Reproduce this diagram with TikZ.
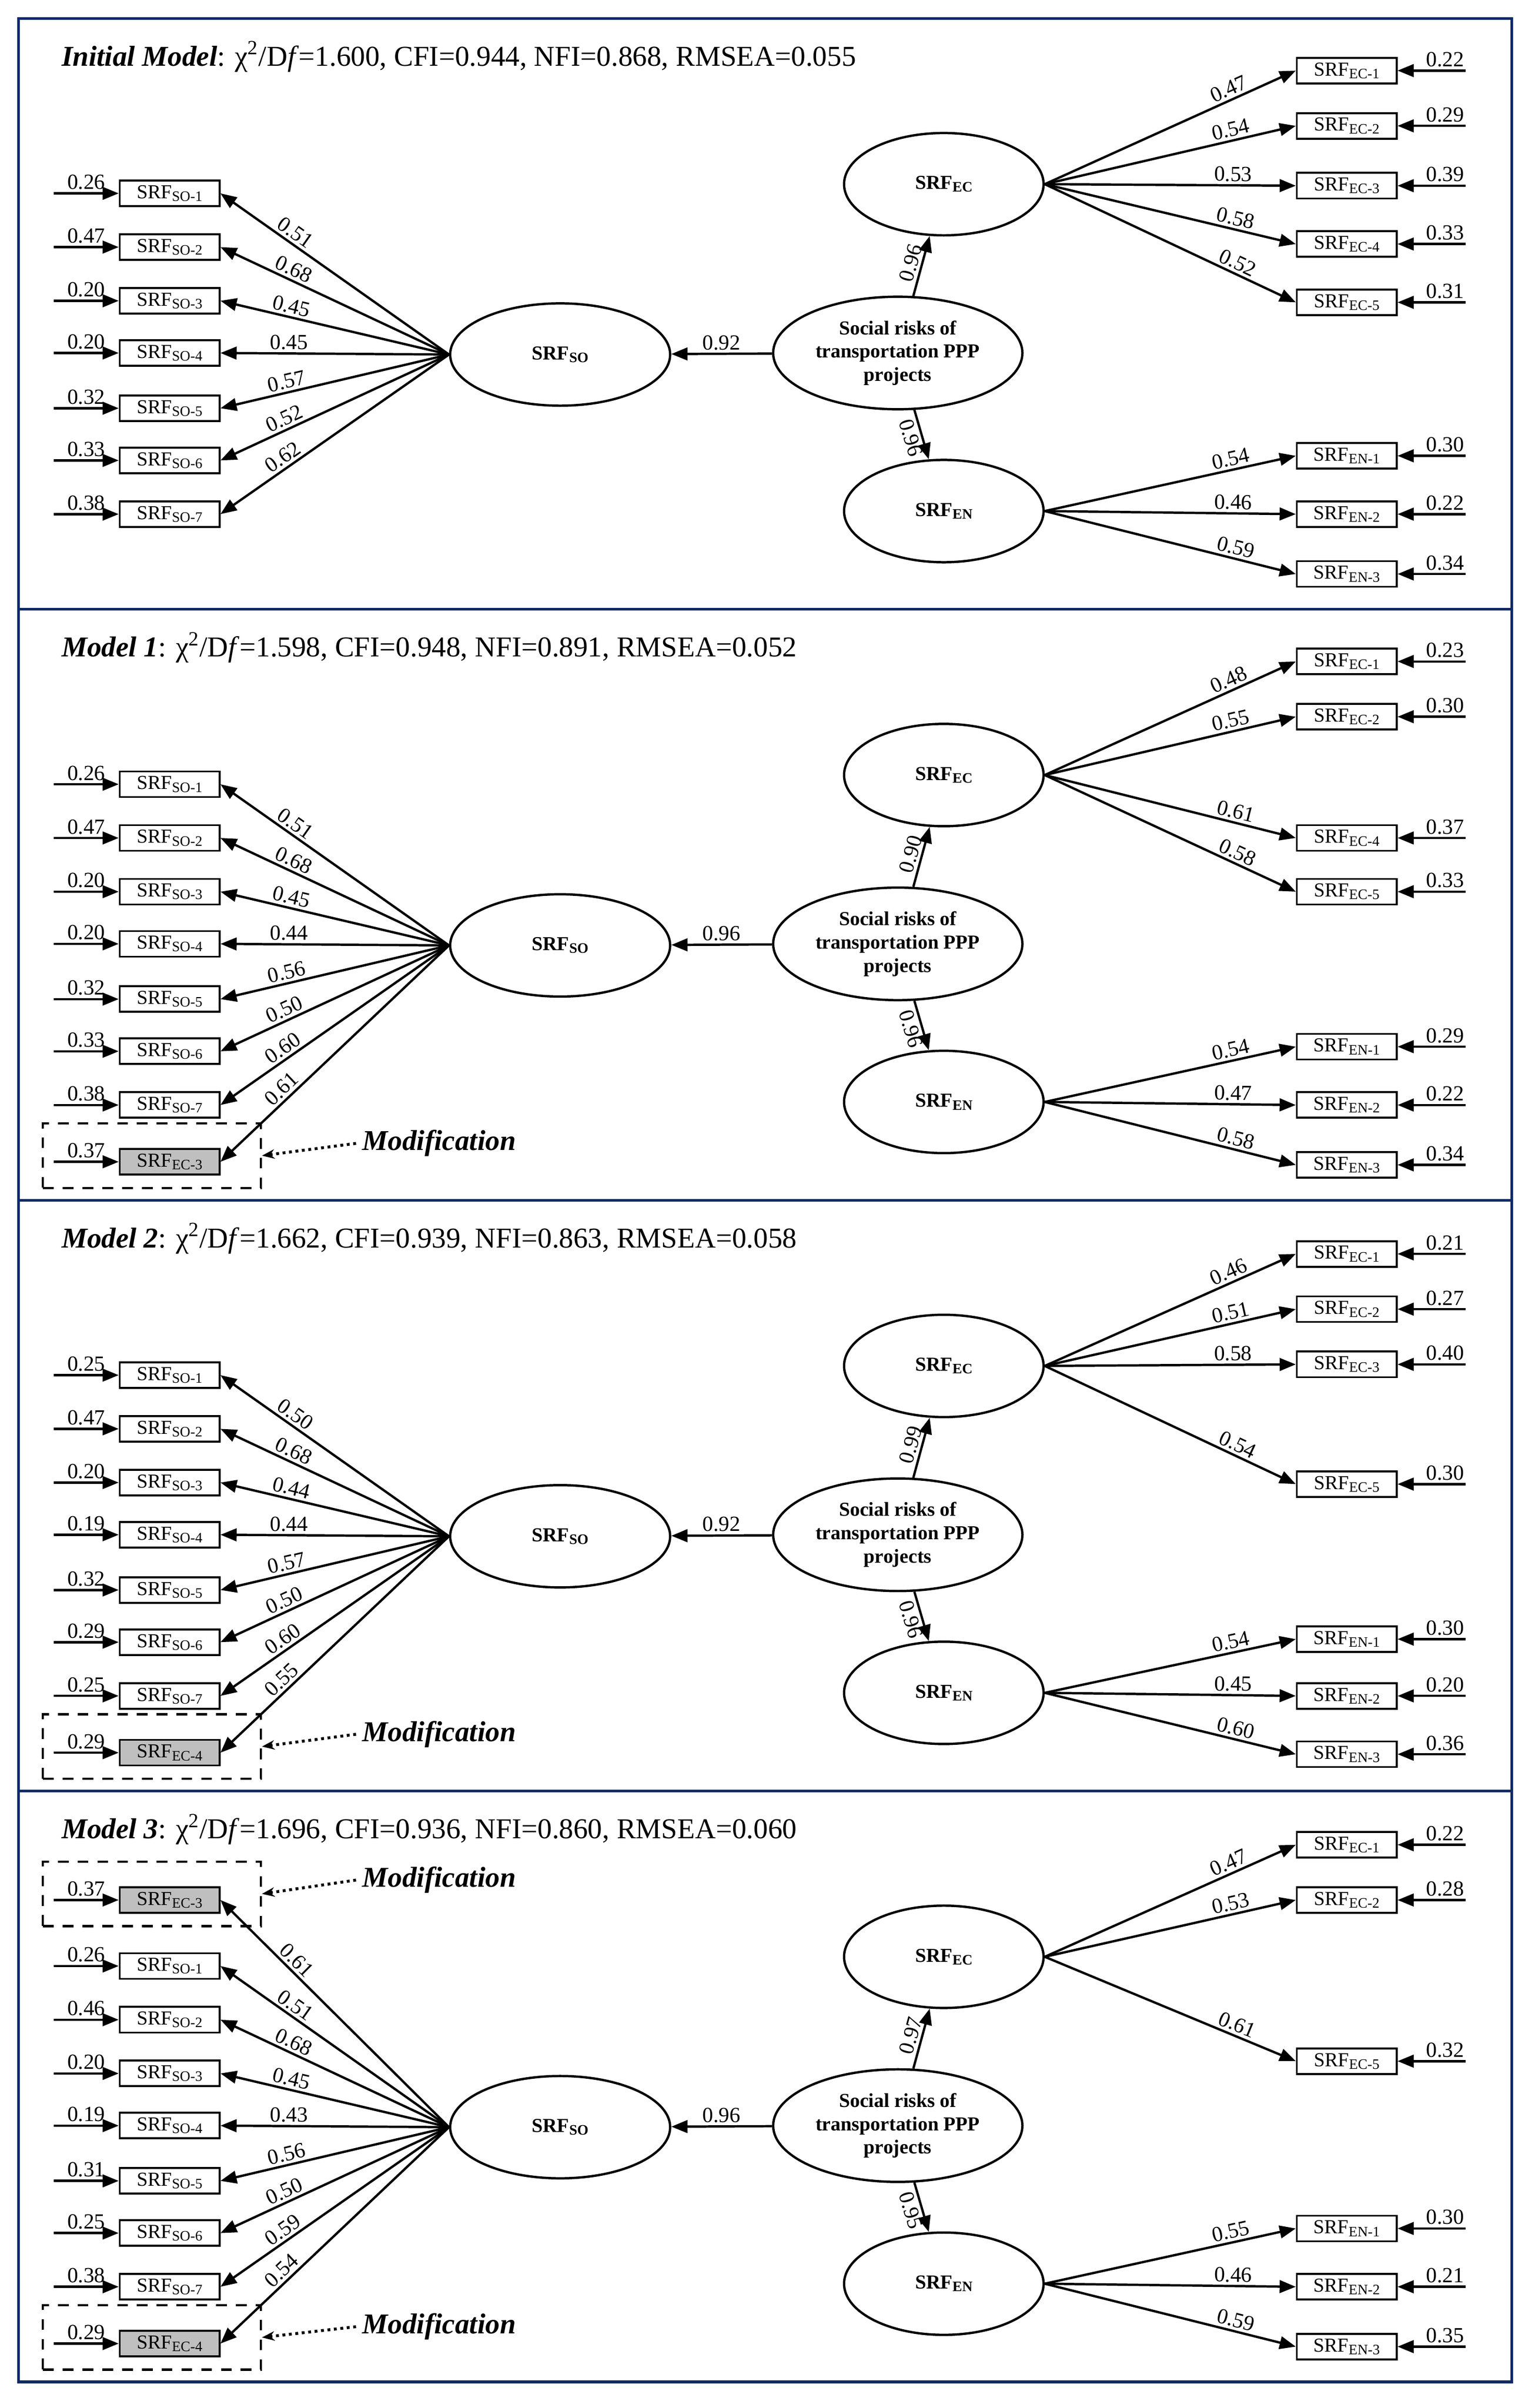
\documentclass[tikz,border=0pt]{standalone}
\usepackage{fontspec}
\setmainfont{Liberation Serif}
\usetikzlibrary{arrows.meta,shapes.geometric}
\definecolor{frame}{HTML}{0F2A66}
\tikzset{
 arr/.style={line width=1.3pt,-{Triangle[length=9pt,width=7pt]}},
 ind/.style={draw,line width=1.1pt,minimum width=1.95cm,minimum height=0.5cm,inner sep=0pt,font=\fontsize{11}{11}\selectfont},
 lat/.style={draw,ellipse,line width=1.3pt,minimum width=4.3cm,minimum height=2cm,font=\bfseries\fontsize{11}{13}\selectfont,align=center},
 lab/.style={font=\fontsize{12}{12}\selectfont,inner sep=1.5pt},
 ttl/.style={anchor=west,font=\fontsize{16}{16}\selectfont},
 modt/.style={font=\bfseries\itshape\fontsize{16}{16}\selectfont},
 dbox/.style={draw,dashed,line width=1.2pt,dash pattern=on 6pt off 5pt},
}
\newcommand\sub[1]{\raisebox{-0.3ex}{\fontsize{8}{8}\selectfont #1}}
\newcommand\Lind[5]{%
 \node[ind,#5] (b) at (110.5,#1) {SRF\sub{#2}};
 \coordinate (e) at (35,#1);
 \draw[arr] (e) -- node[above,lab]{#3} (b.west);
 \draw[arr] (so.west) -- node[lab,above,sloped,pos=0.7]{#4} (b.east);}
\newcommand\Rind[5]{%
 \node[ind] (b) at (877.5,#2) {SRF\sub{#3}};
 \coordinate (e) at (955,#2);
 \draw[arr] (e) -- node[above,lab,pos=0.3]{#4} (b.east);
 \draw[arr] (#1.east) -- node[lab,above,sloped,pos=0.75]{#5} (b.west);}
\newcommand\Core[3]{%
 \node[lat] (so) at (365,231) {SRF\sub{SO}};
 \node[lat,minimum width=4.4cm,minimum height=2.2cm] (soc) at (585,230) {Social risks of\\transportation PPP\\projects};
 \node[lat,minimum width=3.9cm] (ec) at (615,120) {SRF\sub{EC}};
 \node[lat,minimum width=3.9cm] (en) at (615,333) {SRF\sub{EN}};
 \draw[arr] (soc) -- node[lab,above]{#1} (so);
 \draw[arr] (soc) -- node[lab,above,sloped]{#2} (ec);
 \draw[arr] (soc) -- node[lab,below,sloped]{#3} (en);}
\begin{document}
\begin{tikzpicture}[x=0.03cm,y=-0.03cm]
\useasboundingbox (0,0) rectangle (1000,1569);
\foreach \t in {12,397,782,1167}{\draw[frame,line width=1.5pt] (12,\t) rectangle (985,\t+385);}
% Initial
\begin{scope}
\node[ttl] at (36,37) {\textbf{\textit{Initial Model}}: χ\textsuperscript{2}/D\textit{f}=1.600, CFI=0.944, NFI=0.868, RMSEA=0.055};
\Core{0.92}{0.96}{0.96}
\Lind{126}{SO-1}{0.26}{0.51}{}
\Lind{161}{SO-2}{0.47}{0.68}{}
\Lind{196}{SO-3}{0.20}{0.45}{}
\Lind{230}{SO-4}{0.20}{0.45}{}
\Lind{266}{SO-5}{0.32}{0.57}{}
\Lind{300}{SO-6}{0.33}{0.52}{}
\Lind{335}{SO-7}{0.38}{0.62}{}
\Rind{ec}{46}{EC-1}{0.22}{0.47}
\Rind{ec}{82}{EC-2}{0.29}{0.54}
\Rind{ec}{121}{EC-3}{0.39}{0.53}
\Rind{ec}{159}{EC-4}{0.33}{0.58}
\Rind{ec}{197}{EC-5}{0.31}{0.52}
\Rind{en}{297}{EN-1}{0.30}{0.54}
\Rind{en}{335}{EN-2}{0.22}{0.46}
\Rind{en}{374}{EN-3}{0.34}{0.59}
\end{scope}
% Model 1
\begin{scope}[shift={(0,385)}]
\node[ttl] at (36,37) {\textbf{\textit{Model 1}}: χ\textsuperscript{2}/D\textit{f}=1.598, CFI=0.948, NFI=0.891, RMSEA=0.052};
\Core{0.96}{0.90}{0.96}
\Lind{126}{SO-1}{0.26}{0.51}{}
\Lind{161}{SO-2}{0.47}{0.68}{}
\Lind{196}{SO-3}{0.20}{0.45}{}
\Lind{230}{SO-4}{0.20}{0.44}{}
\Lind{266}{SO-5}{0.32}{0.56}{}
\Lind{300}{SO-6}{0.33}{0.50}{}
\Lind{335}{SO-7}{0.38}{0.60}{}
\Lind{372}{EC-3}{0.37}{0.61}{fill=gray!50}
\node[dbox,minimum width=4.26cm,minimum height=1.26cm] (d) at (99,368) {};
\node[modt,anchor=west] (m) at (232,360) {Modification};
\draw[dotted,line width=1.6pt,-{Stealth[length=7pt]}] (m.west) -- (d.east);
\Rind{ec}{46}{EC-1}{0.23}{0.48}
\Rind{ec}{82}{EC-2}{0.30}{0.55}
\Rind{ec}{161}{EC-4}{0.37}{0.61}
\Rind{ec}{196}{EC-5}{0.33}{0.58}
\Rind{en}{297}{EN-1}{0.29}{0.54}
\Rind{en}{335}{EN-2}{0.22}{0.47}
\Rind{en}{374}{EN-3}{0.34}{0.58}
\end{scope}
% Model 2
\begin{scope}[shift={(0,770)}]
\node[ttl] at (36,37) {\textbf{\textit{Model 2}}: χ\textsuperscript{2}/D\textit{f}=1.662, CFI=0.939, NFI=0.863, RMSEA=0.058};
\Core{0.92}{0.99}{0.96}
\Lind{126}{SO-1}{0.25}{0.50}{}
\Lind{161}{SO-2}{0.47}{0.68}{}
\Lind{196}{SO-3}{0.20}{0.44}{}
\Lind{230}{SO-4}{0.19}{0.44}{}
\Lind{266}{SO-5}{0.32}{0.57}{}
\Lind{300}{SO-6}{0.29}{0.50}{}
\Lind{335}{SO-7}{0.25}{0.60}{}
\Lind{372}{EC-4}{0.29}{0.55}{fill=gray!50}
\node[dbox,minimum width=4.26cm,minimum height=1.26cm] (d) at (99,368) {};
\node[modt,anchor=west] (m) at (232,360) {Modification};
\draw[dotted,line width=1.6pt,-{Stealth[length=7pt]}] (m.west) -- (d.east);
\Rind{ec}{47}{EC-1}{0.21}{0.46}
\Rind{ec}{83}{EC-2}{0.27}{0.51}
\Rind{ec}{119}{EC-3}{0.40}{0.58}
\Rind{ec}{197}{EC-5}{0.30}{0.54}
\Rind{en}{298}{EN-1}{0.30}{0.54}
\Rind{en}{335}{EN-2}{0.20}{0.45}
\Rind{en}{373}{EN-3}{0.36}{0.60}
\end{scope}
% Model 3
\begin{scope}[shift={(0,1155)}]
\node[ttl] at (36,37) {\textbf{\textit{Model 3}}: χ\textsuperscript{2}/D\textit{f}=1.696, CFI=0.936, NFI=0.860, RMSEA=0.060};
\Core{0.96}{0.97}{0.95}
\Lind{83}{EC-3}{0.37}{0.61}{fill=gray!50}
\node[dbox,minimum width=4.26cm,minimum height=1.26cm] (d) at (99,79) {};
\node[modt,anchor=west] (m) at (232,70) {Modification};
\draw[dotted,line width=1.6pt,-{Stealth[length=7pt]}] (m.west) -- (d.east);
\Lind{126}{SO-1}{0.26}{0.51}{}
\Lind{161}{SO-2}{0.46}{0.68}{}
\Lind{196}{SO-3}{0.20}{0.45}{}
\Lind{230}{SO-4}{0.19}{0.43}{}
\Lind{266}{SO-5}{0.31}{0.56}{}
\Lind{300}{SO-6}{0.25}{0.50}{}
\Lind{335}{SO-7}{0.38}{0.59}{}
\Lind{372}{EC-4}{0.29}{0.54}{fill=gray!50}
\node[dbox,minimum width=4.26cm,minimum height=1.26cm] (d) at (99,368) {};
\node[modt,anchor=west] (m) at (232,361) {Modification};
\draw[dotted,line width=1.6pt,-{Stealth[length=7pt]}] (m.west) -- (d.east);
\Rind{ec}{47}{EC-1}{0.22}{0.47}
\Rind{ec}{83}{EC-2}{0.28}{0.53}
\Rind{ec}{188}{EC-5}{0.32}{0.61}
\Rind{en}{297}{EN-1}{0.30}{0.55}
\Rind{en}{335}{EN-2}{0.21}{0.46}
\Rind{en}{374}{EN-3}{0.35}{0.59}
\end{scope}
\end{tikzpicture}
\end{document}
